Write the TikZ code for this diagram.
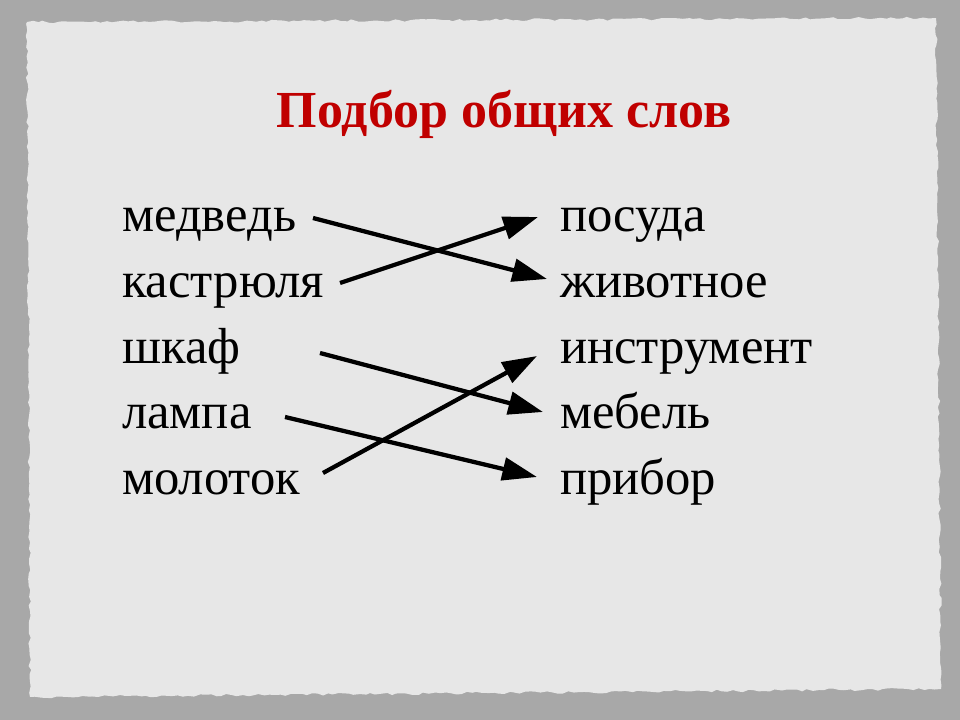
\documentclass[tikz,border=0pt]{standalone}
\usepackage{fontspec}
\setmainfont{Liberation Serif}
\usetikzlibrary{arrows.meta, decorations.pathmorphing}
\definecolor{titlered}{RGB}{192,0,0}
\definecolor{bggray}{RGB}{168,168,168}
\definecolor{paper}{RGB}{231,231,231}

\begin{document}
\begin{tikzpicture}[x=0.75pt, y=-0.75pt, line width=3.2pt,
  word/.style={anchor=base west, inner sep=0pt, font=\fontsize{38}{44}\selectfont},
  link/.style={-{Triangle[length=26pt,width=17pt]}}]
\useasboundingbox (0,0) rectangle (960,720);
\fill[bggray] (0,0) rectangle (960,720);
\fill[paper, decorate, decoration={random steps, segment length=4pt, amplitude=1pt}]
  (27,22) -- (936,18) -- (941,689) -- (30,697) -- cycle;

\node[anchor=base, inner sep=0pt, text=titlered, font=\bfseries\fontsize{39}{44}\selectfont] (title) at (504,128) {Подбор общих слов};

% left column
\node[word] (med) at (120,232) {медведь};
\node[word] (kas) at (120,297) {кастрюля};
\node[word] (shk) at (120,363) {шкаф};
\node[word] (lam) at (120,428) {лампа};
\node[word] (mol) at (120,494) {молоток};

% right column
\node[word] (pos) at (558,232) {посуда};
\node[word] (zhi) at (558,297) {животное};
\node[word] (ins) at (558,363) {инструмент};
\node[word] (meb) at (558,428) {мебель};
\node[word] (pri) at (558,494) {прибор};

\draw[link] ([shift={(193,-14)}]med.base west) -- ([shift={(-11,-18)}]zhi.base west);
\draw[link] ([shift={(220,-14)}]kas.base west) -- ([shift={(-20,-15)}]pos.base west);
\draw[link] ([shift={(200,-10)}]shk.base west) -- ([shift={(-15,-16)}]meb.base west);
\draw[link] ([shift={(165,-11)}]lam.base west) -- ([shift={(-21,-17)}]pri.base west);
\draw[link] ([shift={(203,-21)}]mol.base west) -- ([shift={(-21,-7)}]ins.base west);

\end{tikzpicture}
\end{document}
